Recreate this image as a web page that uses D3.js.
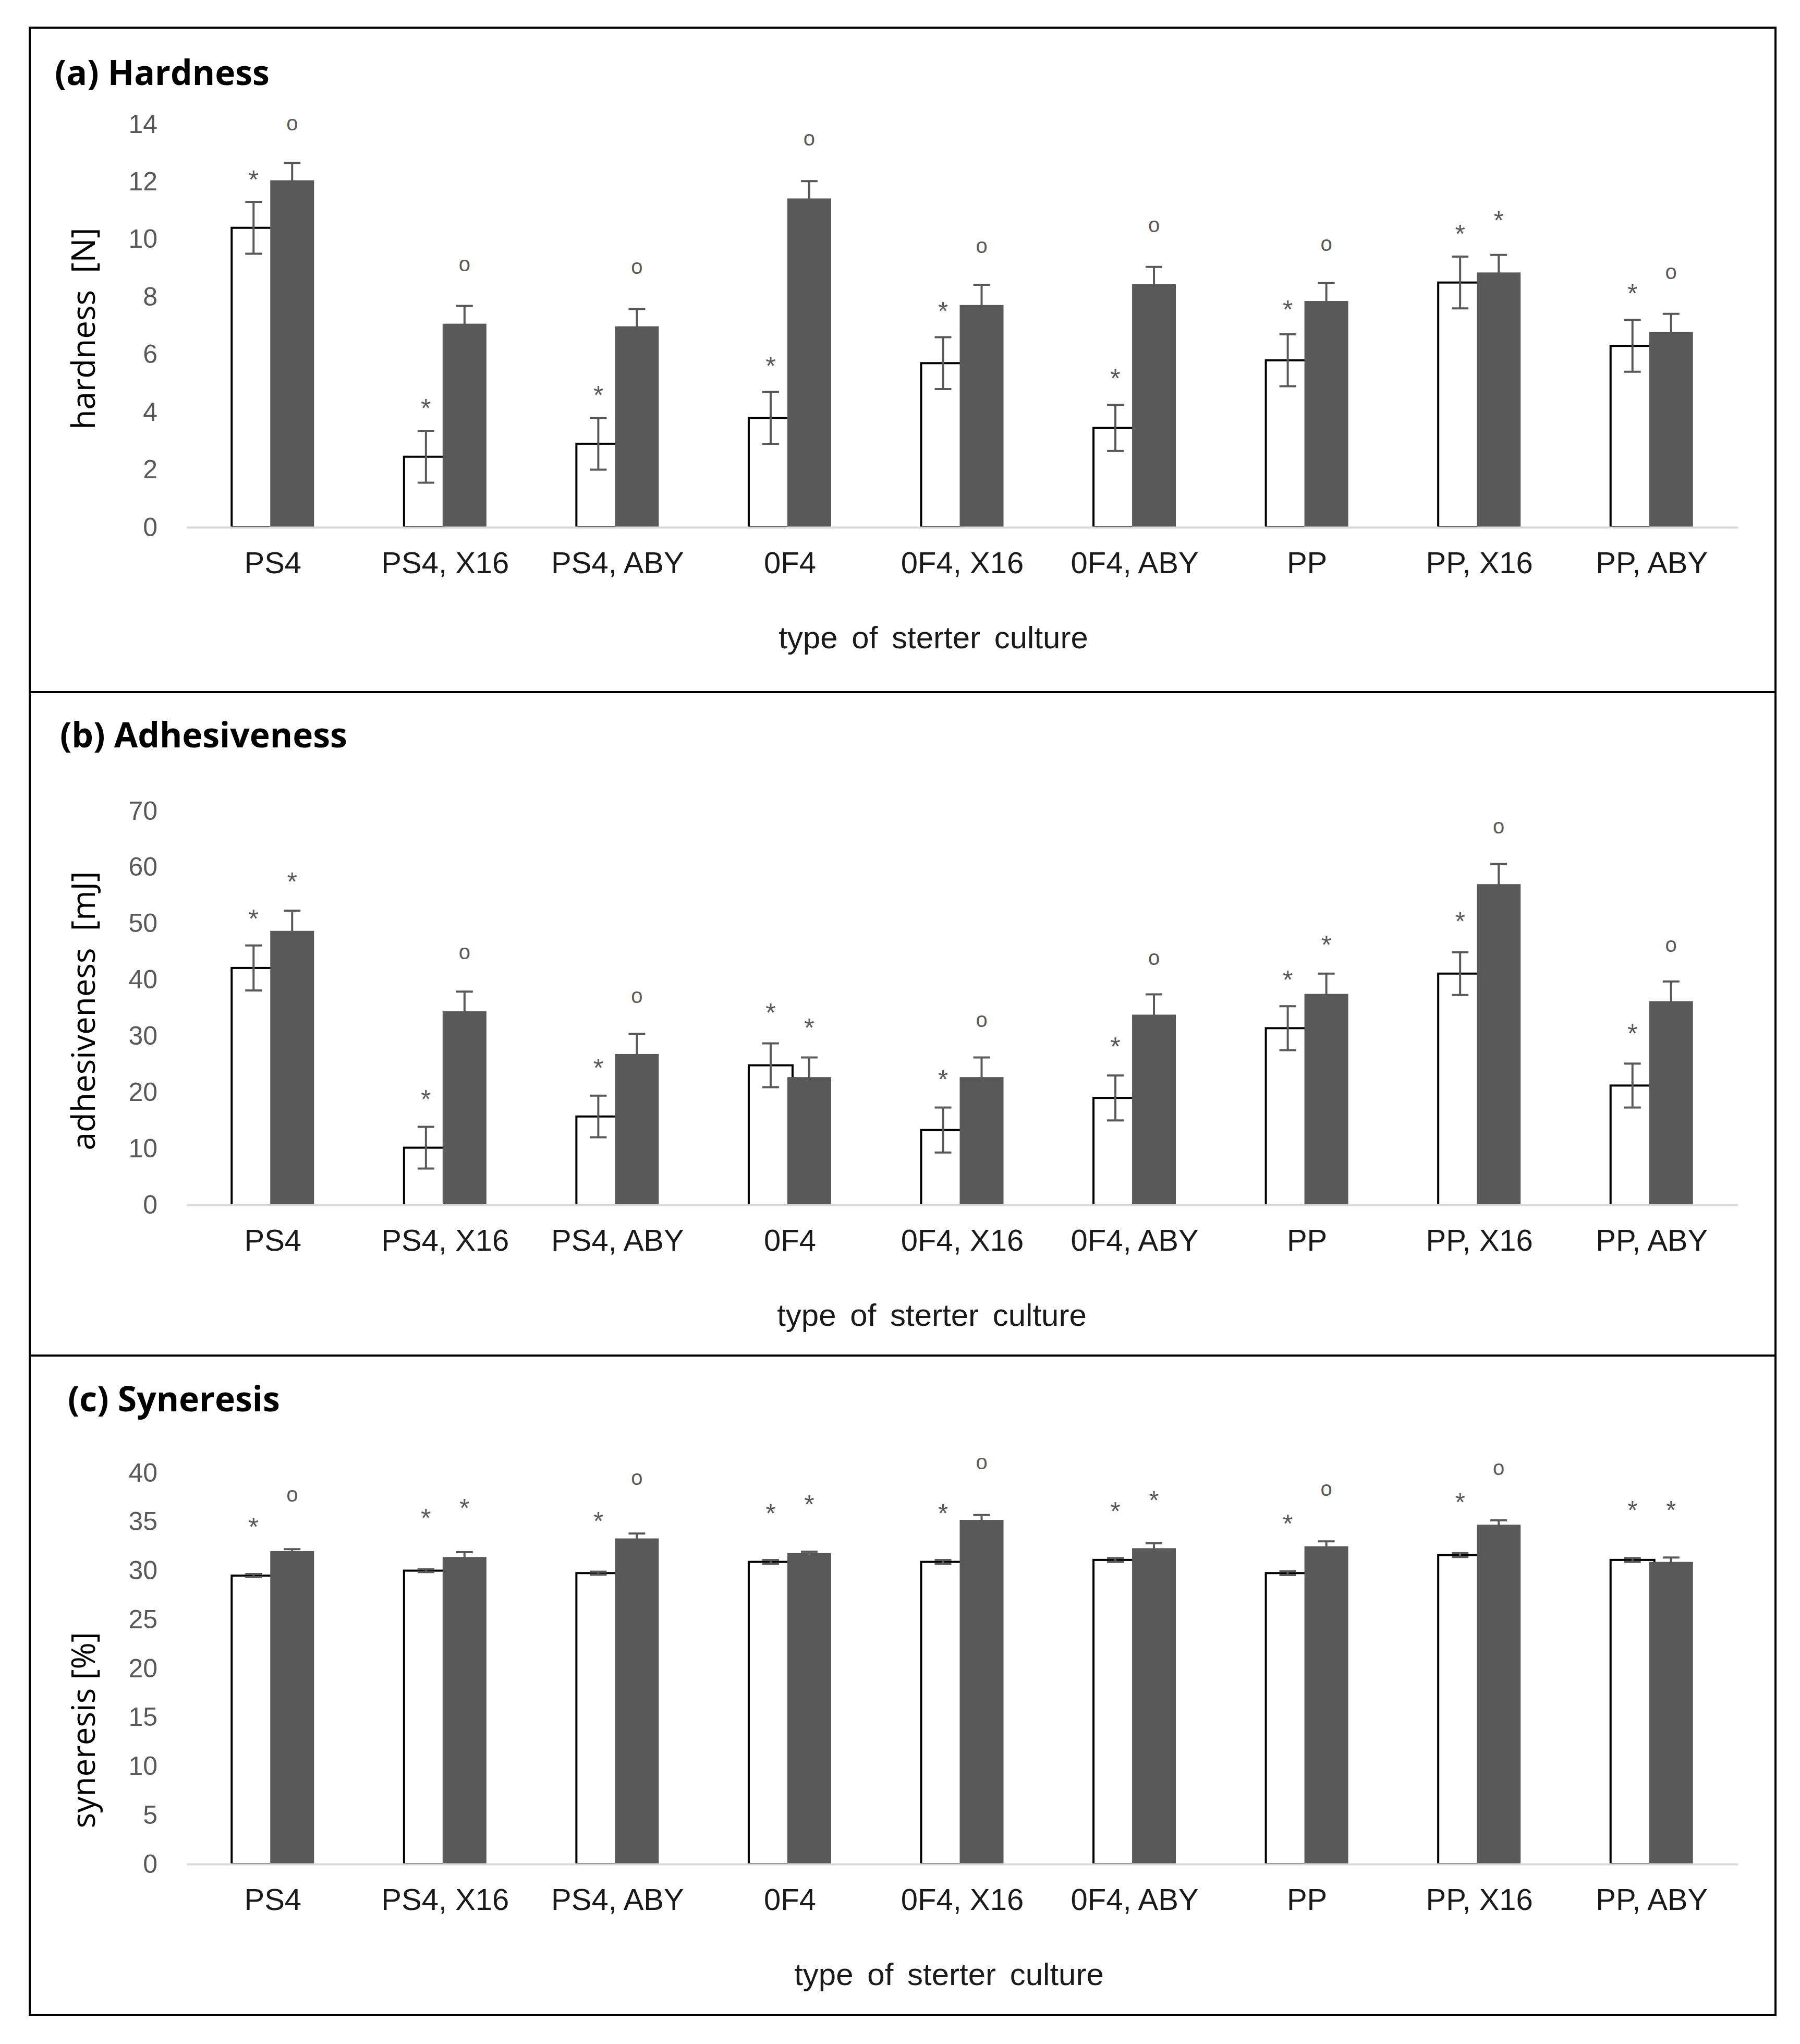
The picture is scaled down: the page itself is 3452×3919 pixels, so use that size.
<!DOCTYPE html>
<html>
<head>
<meta charset="utf-8">
<script src="https://cdn.jsdelivr.net/npm/d3@7"></script>
<style>
  body { margin: 0; background: #fff; }
</style>
</head>
<body>
<div id="chart"></div>
<script>
// starter cultures on the category axis
const categories = ["PS4", "PS4, X16", "PS4, ABY", "0F4", "0F4, X16", "0F4, ABY", "PP", "PP, X16", "PP, ABY"];

// (a) hardness [N]
const hardTicks = [0, 2, 4, 6, 8, 10, 12, 14];
const hardWhite = [10.4, 2.45, 2.9, 3.8, 5.7, 3.45, 5.8, 8.5, 6.3];
const hardWhiteErr = [0.9, 0.9, 0.9, 0.9, 0.9, 0.8, 0.9, 0.9, 0.9];
const hardGrey = [12.05, 7.07, 6.98, 11.42, 7.72, 8.44, 7.86, 8.85, 6.78];
const hardGreyErr = [0.6, 0.62, 0.6, 0.6, 0.7, 0.6, 0.62, 0.61, 0.63];
const hardWhiteSig = ["*", "*", "*", "*", "*", "*", "*", "*", "*"];
const hardWhiteSigAt = [12.28, 4.35, 4.8, 5.81, 7.72, 5.37, 7.77, 10.4, 8.33];
const hardGreySig = ["o", "o", "o", "o", "o", "o", "o", "*", "o"];
const hardGreySigAt = [13.96, 9.07, 8.98, 13.43, 9.71, 10.44, 9.78, 10.86, 8.8];

// (b) adhesiveness [mJ]
const adhTicks = [0, 10, 20, 30, 40, 50, 60, 70];
const adhWhite = [42.1, 10.15, 15.7, 24.8, 13.3, 19.0, 31.4, 41.1, 21.2];
const adhWhiteErr = [4.0, 3.7, 3.7, 3.9, 4.0, 4.0, 3.9, 3.8, 3.9];
const adhGrey = [48.7, 34.4, 26.8, 22.7, 22.7, 33.8, 37.5, 57.0, 36.2];
const adhGreyErr = [3.6, 3.5, 3.6, 3.5, 3.5, 3.6, 3.6, 3.6, 3.5];
const adhWhiteSig = ["*", "*", "*", "*", "*", "*", "*", "*", "*"];
const adhWhiteSigAt = [51.9, 19.8, 25.4, 35.2, 23.4, 29.2, 41.1, 51.5, 31.5];
const adhGreySig = ["*", "o", "o", "*", "o", "o", "*", "o", "o"];
const adhGreySigAt = [58.5, 44.6, 36.8, 32.5, 32.5, 43.6, 47.3, 66.9, 45.9];

// (c) syneresis [%]
const synTicks = [0, 5, 10, 15, 20, 25, 30, 35, 40];
const synWhite = [29.5, 30.0, 29.75, 30.9, 30.9, 31.1, 29.75, 31.6, 31.1];
const synWhiteErr = [0.15, 0.15, 0.15, 0.2, 0.2, 0.2, 0.2, 0.2, 0.2];
const synGrey = [32.0, 31.4, 33.3, 31.8, 35.2, 32.3, 32.5, 34.7, 30.9];
const synGreyErr = [0.2, 0.5, 0.5, 0.15, 0.5, 0.5, 0.5, 0.45, 0.45];
const synWhiteSig = ["*", "*", "*", "*", "*", "*", "*", "*", "*"];
const synWhiteSigAt = [35.1, 36.0, 35.7, 36.5, 36.5, 36.7, 35.4, 37.6, 36.8];
const synGreySig = ["o", "*", "o", "*", "o", "*", "o", "o", "*"];
const synGreySigAt = [37.6, 37.0, 39.3, 37.4, 40.9, 37.8, 38.2, 40.3, 36.8];

(function () {
    const W = 3452, H = 3919;
    const sans = "'Liberation Sans', Arial, sans-serif";
    const titleFont = "'Open Sans', sans-serif";
    const grey = "#595959";

    const svg = d3.select("#chart").append("svg")
        .attr("width", W)
        .attr("height", H);

    svg.append("rect").attr("width", W).attr("height", H).attr("fill", "#fff");

    // frame and separators
    const frame = { left: 57, right: 3405, top: 53, bottom: 3863 };
    const seps = [1327, 2599];
    svg.append("rect")
        .attr("x", frame.left).attr("y", frame.top)
        .attr("width", frame.right - frame.left)
        .attr("height", frame.bottom - frame.top)
        .attr("fill", "none").attr("stroke", "#000").attr("stroke-width", 4);
    seps.forEach(function (s) {
        svg.append("line")
            .attr("x1", frame.left).attr("x2", frame.right)
            .attr("y1", s).attr("y2", s)
            .attr("stroke", "#000").attr("stroke-width", 4);
    });

    // shared category scale
    var x = d3.scaleBand().domain(categories).range([358, 3333]);
    var shift = d3.scaleOrdinal().domain([0, 1]).range([-37, 37]);
    var barW = 84;

    const panels = [
        {
            title: "(a) Hardness", titleX: 105, titleY: 163,
            yLabel: "hardness  [N]", yLabelY: 630, xTitleX: 1790,
            ticks: hardTicks, top: 238, base: 1011,
            series: [
                { v: hardWhite, e: hardWhiteErr, sig: hardWhiteSig, at: hardWhiteSigAt },
                { v: hardGrey, e: hardGreyErr, sig: hardGreySig, at: hardGreySigAt }
            ]
        },
        {
            title: "(b) Adhesiveness", titleX: 115, titleY: 1433,
            yLabel: "adhesiveness  [mJ]", yLabelY: 1938, xTitleX: 1787,
            ticks: adhTicks, top: 1555, base: 2310,
            series: [
                { v: adhWhite, e: adhWhiteErr, sig: adhWhiteSig, at: adhWhiteSigAt },
                { v: adhGrey, e: adhGreyErr, sig: adhGreySig, at: adhGreySigAt }
            ]
        },
        {
            title: "(c) Syneresis", titleX: 130, titleY: 2706,
            yLabel: "syneresis [%]", yLabelY: 3317, xTitleX: 1820,
            ticks: synTicks, top: 2824, base: 3574,
            series: [
                { v: synWhite, e: synWhiteErr, sig: synWhiteSig, at: synWhiteSigAt },
                { v: synGrey, e: synGreyErr, sig: synGreySig, at: synGreySigAt }
            ]
        }
    ];

    const fills = ["#ffffff", "#595959"];
    const strokes = ["#000000", "none"];

    panels.forEach(function (p) {
        var g = svg.append("g");
        var y = d3.scaleLinear()
            .domain([0, d3.max(p.ticks)])
            .range([p.base, p.top]);

        // panel title
        g.append("text")
            .attr("x", p.titleX).attr("y", p.titleY)
            .attr("font-family", titleFont).attr("font-weight", 700)
            .attr("font-size", 66).attr("fill", "#000")
            .text(p.title);

        // y axis ticks
        var yAxis = g.append("g")
            .attr("transform", "translate(353,0)")
            .call(d3.axisLeft(y).tickValues(p.ticks).tickSize(0).tickPadding(51));
        yAxis.select(".domain").remove();
        yAxis.selectAll("text")
            .attr("font-family", sans).attr("font-size", 50).attr("fill", grey);

        // y axis title
        g.append("text")
            .attr("transform", "translate(182," + p.yLabelY + ") rotate(-90)")
            .attr("text-anchor", "middle")
            .attr("font-family", titleFont).attr("font-size", 62)
            .attr("fill", "#000")
            .attr("style", "white-space: pre")
            .text(p.yLabel);

        // bars, white series first, grey overlaps it
        p.series.forEach(function (s, i) {
            g.append("g").selectAll("rect")
                .data(categories)
                .join("rect")
                .attr("x", function (c) { return x(c) + x.bandwidth() / 2 + shift(i) - barW / 2; })
                .attr("y", function (c, j) { return y(s.v[j]); })
                .attr("width", barW)
                .attr("height", function (c, j) { return p.base - y(s.v[j]); })
                .attr("fill", fills[i])
                .attr("stroke", strokes[i])
                .attr("stroke-width", 4);
        });

        // error bars
        p.series.forEach(function (s, i) {
            var eg = g.append("g")
                .attr("stroke", grey).attr("stroke-width", 4).attr("fill", "none");
            categories.forEach(function (c, j) {
                var cx = x(c) + x.bandwidth() / 2 + shift(i);
                var hi = y(s.v[j] + s.e[j]), lo = y(s.v[j] - s.e[j]);
                eg.append("path")
                    .attr("d", "M" + cx + "," + hi + "V" + lo +
                        "M" + (cx - 16) + "," + hi + "H" + (cx + 16) +
                        "M" + (cx - 16) + "," + lo + "H" + (cx + 16));
            });
        });

        // category axis
        var xAxis = g.append("g")
            .attr("transform", "translate(0," + p.base + ")")
            .call(d3.axisBottom(x).tickSize(0).tickSizeOuter(0).tickPadding(47));
        xAxis.select(".domain").attr("stroke", "#d9d9d9").attr("stroke-width", 4);
        xAxis.selectAll("text")
            .attr("font-family", sans).attr("font-size", 58).attr("fill", "#1a1a1a");

        // x axis title
        g.append("text")
            .attr("x", p.xTitleX).attr("y", p.base + 232)
            .attr("text-anchor", "middle")
            .attr("font-family", sans).attr("font-size", 60)
            .attr("word-spacing", 10)
            .attr("fill", "#1a1a1a")
            .text("type of sterter culture");

        // significance marks
        p.series.forEach(function (s, i) {
            g.append("g").selectAll("text")
                .data(categories)
                .join("text")
                .attr("x", function (c) { return x(c) + x.bandwidth() / 2 + shift(i); })
                .attr("y", function (c, j) {
                    return y(s.at[j]) + (s.sig[j] === "*" ? 29 : 10);
                })
                .attr("text-anchor", "middle")
                .attr("font-family", sans)
                .attr("font-size", function (c, j) { return s.sig[j] === "*" ? 50 : 40; })
                .attr("fill", grey)
                .text(function (c, j) { return s.sig[j]; });
        });
    });
})();
</script>
</body>
</html>
